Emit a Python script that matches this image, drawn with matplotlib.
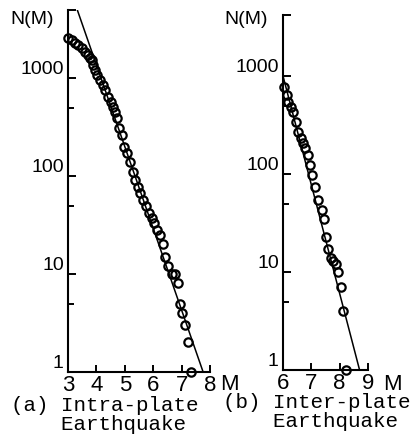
import numpy as np
import matplotlib
matplotlib.use("Agg")
import matplotlib.pyplot as plt
from matplotlib.ticker import NullFormatter

# magnitude / cumulative number
mag_intra = [3.01, 3.13, 3.25, 3.36, 3.48, 3.60, 3.70, 3.77, 3.83, 3.89,
             3.95, 4.03, 4.13, 4.22, 4.30, 4.42, 4.50, 4.60, 4.65, 4.72,
             4.81, 4.89, 4.97, 5.07, 5.18, 5.28, 5.36, 5.48, 5.54, 5.65,
             5.75, 5.86, 5.95, 6.03, 6.12, 6.24, 6.33, 6.42, 6.53, 6.65,
             6.77, 6.86, 6.94, 7.02, 7.12, 7.24, 7.32]
n_intra = [2577, 2444, 2291, 2173, 2010, 1854, 1718, 1618, 1528, 1358,
           1208, 1074, 955, 849, 755, 645, 573, 509, 453, 390,
           307, 262, 199, 171, 140, 111, 91, 78, 67, 57,
           49, 42, 37, 33, 28, 25, 20, 15, 12, 10,
           10, 8, 5, 4, 3, 2, 1]

mag_inter = [6.05, 6.13, 6.19, 6.28, 6.36, 6.45, 6.54, 6.64, 6.72, 6.78,
             6.87, 6.95, 7.04, 7.13, 7.25, 7.37, 7.44, 7.52, 7.60, 7.69,
             7.78, 7.87, 7.95, 8.04, 8.11, 8.23]
n_inter = [778, 640, 547, 486, 433, 342, 270, 231, 206, 183,
           156, 124, 98, 74, 54, 43, 35, 23, 17, 14,
           13, 12, 10, 7, 4, 1]

# Gutenberg-Richter fits: log N = a - b M
a_intra, b_intra = 6.47, 0.834
a_inter, b_inter = 9.66, 1.11

ytick_vals = [1, 10, 100, 1000]
ytick_labels = ["1", "10", "100", "1000"]
yminor_vals = [5, 50, 500]

narrow = ["Liberation Sans Narrow", "Liberation Sans", "DejaVu Sans"]
mono = ["Liberation Mono", "DejaVu Sans Mono"]

W, H = 414, 445
fig = plt.figure(figsize=(W / 100, H / 100), dpi=100)


def panel(left, right, top, bottom, xlim, ymax, mags, counts, a, b,
          caption, cap_x, nm_x, m_x, cap_dy=0):
    ax = fig.add_axes([left / W, 1 - bottom / H, (right - left) / W, (bottom - top) / H])
    ax.plot(mags, counts, "o", ms=6, mfc="none", mec="black", mew=1.6, zorder=3, clip_on=False)
    mm = np.linspace(xlim[0], a / b, 200)
    ax.plot(mm, 10 ** (a - b * mm), color="black", lw=1.1)
    ax.set_yscale("log")
    ax.set_xlim(*xlim)
    ax.set_ylim(1, ymax)
    for s in ["top", "right"]:
        ax.spines[s].set_visible(False)
    for s in ["left", "bottom"]:
        ax.spines[s].set_linewidth(1.5)
    ax.set_yticks(ytick_vals + [ymax])
    ax.set_yticklabels(ytick_labels + [""], family=narrow, fontsize=14)
    ax.set_yticks(yminor_vals, minor=True)
    ax.yaxis.set_minor_formatter(NullFormatter())
    for lbl in ax.get_yticklabels():
        lbl.set_verticalalignment("bottom")
    xt = list(range(xlim[0], xlim[1] + 1))
    ax.set_xticks(xt)
    ax.set_xticklabels([str(v) for v in xt], family=narrow, fontsize=16)
    ax.tick_params(axis="both", which="both", direction="in", width=1.4, color="black")
    ax.tick_params(axis="y", which="major", length=5.5, pad=3)
    ax.tick_params(axis="y", which="minor", length=4.5)
    ax.tick_params(axis="x", which="major", length=5, pad=2)
    fig.text(nm_x / W, 1 - 20 / H, "N(M)", family=narrow, fontsize=14,
             ha="center", va="center")
    fig.text(m_x / W, 1 - 384 / H, "M", family=narrow, fontsize=16,
             ha="center", va="center")
    fig.text(cap_x / W, 1 - (415 + cap_dy) / H, caption, family=mono, fontsize=15,
             ha="left", va="center", linespacing=1.0)
    return ax


panel(68, 210, 10, 372, (3, 8), 10 ** (362 / 98), mag_intra, n_intra,
      a_intra, b_intra, "(a) Intra-plate\n    Earthquake", 11, 32, 229)
panel(283, 368, 15, 370, (6, 9), 10 ** (355 / 98), mag_inter, n_inter,
      a_inter, b_inter, "(b) Inter-plate\n    Earthquake", 223, 246, 392, cap_dy=-3)

fig.savefig("out.png", dpi=100)
